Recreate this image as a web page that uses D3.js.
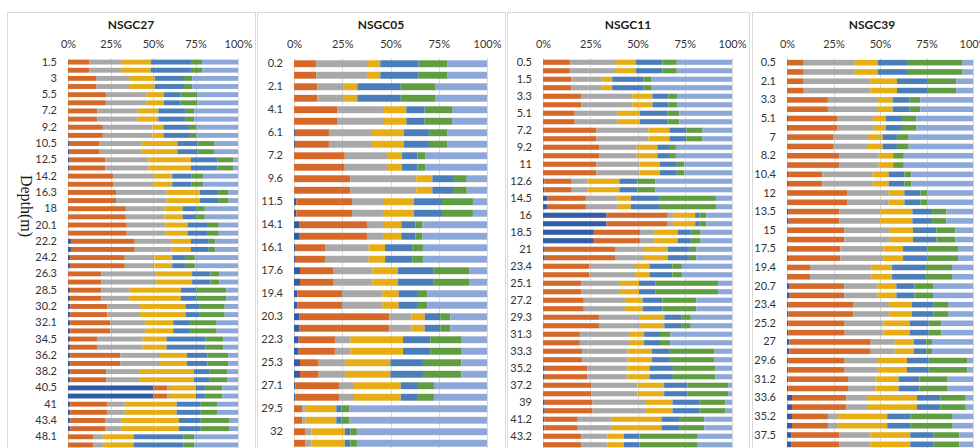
<!DOCTYPE html>
<html>
<head>
<meta charset="utf-8">
<script src="https://cdn.jsdelivr.net/npm/d3@7"></script>
<style>
  html, body { margin: 0; padding: 0; background: #fff; }
  svg { display: block; }
  text { font-family: Lato, "Open Sans", sans-serif; fill: #404040; }
</style>
</head>
<body>
<svg id="chart" width="980" height="448"></svg>
<script>
// Fraction classes, stacked left to right in every bar
const fractionKeys = ["f1", "f2", "f3", "f4", "f5", "f6", "f7"];
const fractionColors = ["#325DA6", "#D5692A", "#A8A8A8", "#E7AD14", "#4A7DBA", "#609C42", "#8EA7D9"];
const percentTicks = [0, 0.25, 0.5, 0.75, 1];

// ---- NSGC27 ----
const depths27 = ["1.5","3","5.5","7.2","9.2","10.5","12.5","14.2","16.3","18","20.1","22.2","24.2","26.3","28.5","30.2","32.1","34.5","36.2","38.2","40.5","41","43.4","48.1"];
const f1_27 = [0,0,0,0,0,1.0,1.0,0,0,0,0,1.8,1.2,0,1.2,1.4,1.4,1.2,1.4,1.4,50.2,1.4,1.4,0];
const f2_27 = [12.7,16.8,22.3,17.2,20.5,17.6,20.9,26.8,28.3,34.0,34.6,37.5,32.2,19.5,18.3,21.8,23.4,16.2,29.3,21.1,8.4,21.5,20.7,15.0];
const f3_27 = [18.4,19.7,24.0,23.6,29.3,24.8,25.4,23.4,29.7,22.8,22.6,21.6,17.4,32.3,16.6,19.2,20.9,26.5,23.4,19.3,1.4,10.5,9.2,5.5];
const f4_27 = [17.6,14.5,10.1,12.3,6.3,20.9,25.0,11.1,19.5,10.6,13.1,11.4,10.5,21.2,30.3,26.7,16.2,14.1,15.8,32.2,15.2,30.5,33.9,18.0];
const f5_27 = [23.6,17.2,9.8,15.8,15.6,11.7,15.6,11.4,10.8,8.2,11.5,10.5,7.5,10.8,9.2,8.0,9.8,22.9,12.1,9.4,5.3,14.2,12.9,29.3];
const f6_27 = [6.6,4.8,10.0,5.3,3.9,10.3,9.2,6.8,6.2,4.9,6.9,3.9,5.8,5.1,17.6,15.1,15.8,10.3,12.3,10.5,10.3,9.6,17.0,6.4];
const f7_27 = [21.1,27.0,23.8,25.8,24.4,13.7,2.9,20.5,5.5,19.5,11.3,13.3,25.4,11.1,6.8,7.8,12.5,8.8,5.7,6.1,9.2,12.3,4.9,25.8];

// ---- NSGC05 ----
const depths05 = ["0.2","2.1","4.1","6.1","7.2","9.6","11.5","14.1","16.1","17.6","19.4","20.3","22.3","25.3","27.1","29.5","32"];
const f1_05 = [0,0,0,0.5,0,0,1.2,2.6,0.9,3.1,1.7,2.9,2.4,3.1,0.7,0,0];
const f2_05 = [11.6,12.1,22.3,17.6,26.3,29.2,28.9,35.2,15.5,17.1,23.2,46.6,18.8,9.7,22.6,4.3,6.0];
const f3_05 = [26.2,13.3,23.8,22.3,21.9,34.2,16.0,8.3,22.3,20.4,20.9,11.3,8.0,14.0,7.8,1.6,3.0];
const f4_05 = [6.9,7.4,12.1,16.4,7.8,8.3,16.1,9.5,8.5,13.3,8.4,6.9,27.3,23.1,24.2,16.0,17.3];
const f5_05 = [19.9,22.5,9.5,13.1,7.9,10.7,14.5,7.3,14.1,18.5,10.0,8.1,14.1,16.9,8.9,2.6,2.9];
const f6_05 = [15.0,18.1,14.2,9.7,4.3,7.1,16.0,3.6,5.5,18.3,4.9,5.2,16.3,19.9,8.3,4.3,3.4];
const f7_05 = [20.4,26.6,18.1,20.4,31.8,10.5,7.3,33.5,33.2,9.3,30.9,19.0,13.1,13.3,27.5,71.2,67.4];

// ---- NSGC11 ----
const depths11 = ["0.5","1.5","3.3","5.1","7.2","9.2","11","12.6","14.5","16","18.5","21","23.4","25.1","27.2","29.3","31.3","33.3","35.2","37.2","39","41.2","43.2"];
const f1_11 = [0,0,0,0,0,0,0,0.7,2.1,33.6,26.9,0.9,0,0,0,0,0,0,0.9,0,0.9,0.7,0];
const f2_11 = [14.2,15.0,20.4,16.8,28.3,29.7,28.3,14.5,20.6,32.4,24.4,37.2,24.4,20.4,21.6,29.6,19.5,20.7,22.5,25.7,25.3,17.7,20.2];
const f3_11 = [23.9,16.3,27.0,22.5,27.5,19.9,22.7,8.2,16.6,2.7,7.6,15.4,24.8,19.8,22.3,21.7,26.5,23.9,21.4,24.2,28.3,17.5,13.8];
const f4_11 = [11.1,5.3,10.5,12.0,11.1,10.9,10.9,17.0,7.2,11.8,12.3,12.5,7.1,10.6,8.8,12.9,7.5,12.9,11.5,14.2,14.0,26.8,8.8];
const f5_11 = [14.0,16.5,8.5,14.5,8.9,6.2,8.9,9.5,14.9,2.3,7.0,11.3,12.2,8.8,10.5,8.9,8.4,9.2,12.4,12.4,14.2,9.3,8.2];
const f6_11 = [7.6,4.4,4.8,6.4,8.6,3.6,4.1,9.6,30.1,3.6,5.2,3.8,5.0,33.0,17.9,5.1,5.4,24.1,22.6,21.4,13.9,13.3,30.9];
const f7_11 = [29.2,42.5,28.8,27.8,15.6,29.7,25.1,40.5,8.5,13.6,16.6,18.9,26.5,7.4,18.9,21.8,32.7,9.2,8.7,2.1,3.4,14.7,18.1];

// ---- NSGC39 ----
const depths39 = ["0.5","2.1","3.3","5.1","7","8.2","10.4","12","13.5","15","17.5","19.4","20.7","23.4","25.2","27","29.6","31.2","33.6","35.2","37.5"];
const f1_39 = [0,0,0,0.5,0,0,0.5,0,0.9,0,0.5,0,1.1,0.7,0.7,1.3,0.7,0.7,2.7,2.7,2.2];
const f2_39 = [9.0,9.0,22.0,26.4,25.1,28.3,18.5,32.3,27.1,30.8,28.2,12.4,29.7,35.1,30.3,43.7,30.3,32.1,29.2,19.3,26.1];
const f3_39 = [27.4,35.8,26.9,19.7,18.4,21.0,27.1,22.4,22.2,24.2,23.3,32.9,17.9,19.2,21.0,12.9,17.4,14.7,11.6,4.9,16.5];
const f4_39 = [12.3,14.3,7.9,6.6,7.9,7.7,8.6,8.4,17.2,12.7,10.4,11.2,10.1,12.2,14.0,10.2,16.1,12.5,26.4,27.0,21.5];
const f5_39 = [15.8,16.2,9.2,8.6,7.7,0.4,8.4,8.6,10.6,12.6,13.2,18.2,9.8,11.7,10.2,6.8,11.7,11.3,12.5,12.4,12.6];
const f6_39 = [29.9,15.7,5.7,7.7,6.3,5.4,3.7,3.6,7.7,10.2,16.4,14.0,9.9,8.0,6.8,3.1,20.9,15.1,13.7,22.8,13.8];
const f7_39 = [5.6,9.0,28.3,30.5,34.6,37.2,33.2,24.7,14.3,9.5,8.0,11.3,21.5,13.1,17.0,22.0,2.9,13.6,3.9,10.9,7.3];

const svg = d3.select("#chart");

// panel layout: frame box, plot x-range
const panels = [
  { title: "NSGC27", depths: depths27, series: [f1_27, f2_27, f3_27, f4_27, f5_27, f6_27, f7_27], frame: [7, 255], plot: [68, 238], yAxisTitle: true },
  { title: "NSGC05", depths: depths05, series: [f1_05, f2_05, f3_05, f4_05, f5_05, f6_05, f7_05], frame: [257, 505], plot: [294, 487] },
  { title: "NSGC11", depths: depths11, series: [f1_11, f2_11, f3_11, f4_11, f5_11, f6_11, f7_11], frame: [507, 749], plot: [543, 732] },
  { title: "NSGC39", depths: depths39, series: [f1_39, f2_39, f3_39, f4_39, f5_39, f6_39, f7_39], frame: [752, 992], plot: [787, 973] }
];

const plotTop = 58, plotBottom = 449;

panels.forEach(p => {
  const g = svg.append("g");

  // chart frame
  g.append("rect")
    .attr("x", p.frame[0] + 0.5).attr("y", 12.5)
    .attr("width", p.frame[1] - p.frame[0]).attr("height", 460)
    .attr("fill", "#fff").attr("stroke", "#d9d9d9");

  // title
  g.append("text")
    .attr("x", (p.frame[0] + p.frame[1]) / 2).attr("y", 29)
    .attr("text-anchor", "middle")
    .style("font-size", "12px").style("font-weight", "bold").style("fill", "#1a1a1a")
    .text(p.title);

  // each sample is drawn as a pair of identical bars
  const rows = d3.range(p.depths.length * 2);
  const table = rows.map(r => {
    const i = Math.floor(r / 2);
    const o = { row: r };
    fractionKeys.forEach((k, j) => { o[k] = p.series[j][i]; });
    return o;
  });

  const x = d3.scaleLinear().domain([0, 1]).range(p.plot);
  const y = d3.scaleBand().domain(rows).range([plotTop, plotBottom]).paddingInner(0.4).paddingOuter(0.2);

  // vertical gridlines
  g.append("g").selectAll("line").data(percentTicks).join("line")
    .attr("x1", d => Math.round(x(d)) + 0.5).attr("x2", d => Math.round(x(d)) + 0.5)
    .attr("y1", plotTop).attr("y2", 470)
    .attr("stroke", "#d9d9d9");

  // stacked bars (100% stacked)
  const stacked = d3.stack().keys(fractionKeys).offset(d3.stackOffsetExpand)(table);
  g.append("g").selectAll("g").data(stacked).join("g")
    .attr("fill", (d, i) => fractionColors[i])
    .selectAll("rect").data(d => d).join("rect")
      .attr("x", d => x(d[0]))
      .attr("width", d => Math.max(0, x(d[1]) - x(d[0])))
      .attr("y", d => y(d.data.row))
      .attr("height", y.bandwidth());

  // percent axis on top
  const xAxis = g.append("g")
    .attr("transform", `translate(0,${plotTop - 8})`)
    .call(d3.axisTop(x).tickValues(percentTicks).tickFormat(d3.format(".0%")).tickSize(0).tickPadding(2));
  xAxis.select(".domain").remove();
  xAxis.selectAll("text").style("font-size", "11px").style("fill", "#333").style("font-family", "Lato, sans-serif");

  // depth axis: label on the first bar of each pair
  const yAxis = g.append("g")
    .attr("transform", `translate(${p.plot[0]},0)`)
    .call(d3.axisLeft(y).tickValues(rows.filter(r => r % 2 === 0)).tickFormat(r => p.depths[r / 2]).tickSize(0).tickPadding(11));
  yAxis.select(".domain").remove();
  yAxis.selectAll("text").style("font-size", "11px").style("fill", "#333").style("font-family", "Lato, sans-serif");

  if (p.yAxisTitle) {
    g.append("text")
      .attr("transform", "translate(26,206) rotate(90)")
      .attr("text-anchor", "middle").attr("dominant-baseline", "central")
      .style("font-family", "'Liberation Serif', 'DejaVu Serif', serif")
      .style("font-size", "16px").style("fill", "#1a1a1a")
      .text("Depth(m)");
  }
});
</script>
</body>
</html>
